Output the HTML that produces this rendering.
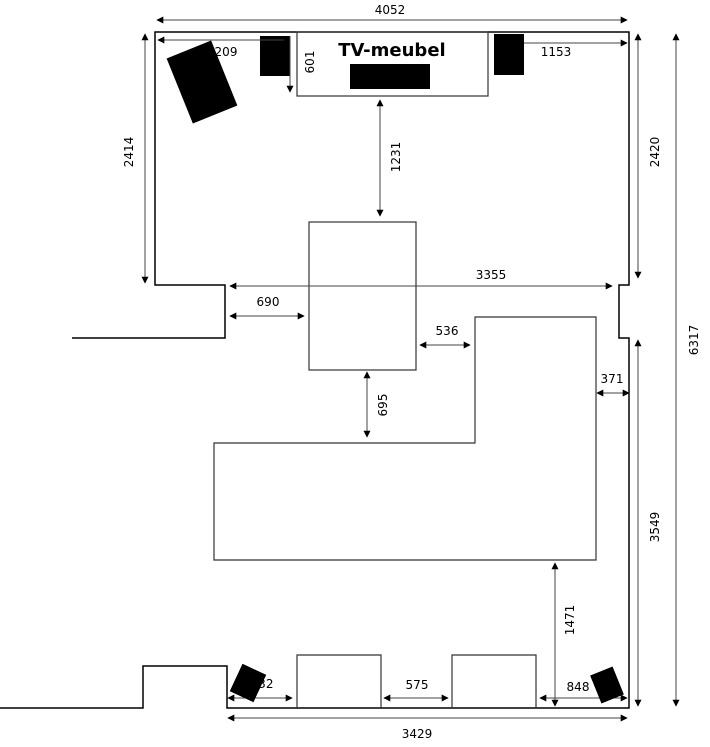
<!DOCTYPE html>
<html><head><style>
html,body{margin:0;padding:0;background:#fff;width:710px;height:747px;overflow:hidden}
svg text{font-family:"DejaVu Sans","Liberation Sans",sans-serif;font-size:12px;fill:#000}
</style></head><body>
<svg width="710" height="747" viewBox="0 0 710 747" xmlns="http://www.w3.org/2000/svg">
<defs>
<marker id="a" viewBox="0 0 10 10" refX="9" refY="5" markerWidth="7" markerHeight="7" orient="auto-start-reverse"><path d="M0,0L10,5L0,10z" fill="#000"/></marker>
</defs>
<g fill="none" stroke="#000" stroke-width="1.5">
<path d="M72,338H225V285H155V32H629V285H619V338H629V708H227V666H143V708H0"/>
</g>
<g fill="none" stroke="#333" stroke-width="1.2">
<rect x="297" y="32" width="191" height="64"/>
<rect x="309" y="222" width="107" height="148"/>
<path d="M475,443V317H596V560H214V443Z"/>
<path d="M297,708V655H381V708M452,708V655H536V708"/>
</g>
<g fill="#000">
<rect x="350" y="64" width="80" height="25"/>
<rect x="260" y="36" width="30" height="40"/>
<rect x="494" y="34" width="30" height="41"/>
<rect x="178" y="47" width="48" height="70" transform="rotate(-22 202 82)"/>
<rect x="235" y="668" width="26" height="30" transform="rotate(25 248 683)"/>
<rect x="595" y="670" width="24" height="30" transform="rotate(-22 607 685)"/>
</g>
<g stroke="#444" stroke-width="1" marker-start="url(#a)" marker-end="url(#a)">
<line x1="157" y1="20" x2="627" y2="20"/>
<line x1="158" y1="40" x2="290" y2="40"/>
<line x1="524" y1="43" x2="627" y2="43" marker-start="none"/>
<line x1="290" y1="36" x2="290" y2="92" marker-start="none"/>
<line x1="145" y1="34" x2="145" y2="283"/>
<line x1="638" y1="34" x2="638" y2="278"/>
<line x1="676" y1="34" x2="676" y2="706"/>
<line x1="380" y1="100" x2="380" y2="216"/>
<line x1="230" y1="286" x2="612" y2="286"/>
<line x1="230" y1="316" x2="304" y2="316"/>
<line x1="420" y1="345" x2="470" y2="345"/>
<line x1="597" y1="393" x2="629" y2="393"/>
<line x1="367" y1="372" x2="367" y2="437"/>
<line x1="638" y1="340" x2="638" y2="706"/>
<line x1="555" y1="563" x2="555" y2="706"/>
<line x1="228" y1="698" x2="292" y2="698"/>
<line x1="384" y1="698" x2="448" y2="698"/>
<line x1="540" y1="698" x2="627" y2="698"/>
<line x1="228" y1="718" x2="627" y2="718"/>
</g>
<text x="390" y="14" text-anchor="middle">4052</text>
<text x="226" y="56" text-anchor="middle">209</text>
<text x="556" y="56" text-anchor="middle">1153</text>
<text x="392" y="56" text-anchor="middle" style="font-family:'DejaVu Sans',sans-serif;font-size:18px;font-weight:bold">TV-meubel</text>
<text transform="translate(314,62) rotate(-90)" text-anchor="middle">601</text>
<text transform="translate(133,152) rotate(-90)" text-anchor="middle">2414</text>
<text transform="translate(659,152) rotate(-90)" text-anchor="middle">2420</text>
<text transform="translate(698,340) rotate(-90)" text-anchor="middle">6317</text>
<text transform="translate(400,157) rotate(-90)" text-anchor="middle">1231</text>
<text transform="translate(387,405) rotate(-90)" text-anchor="middle">695</text>
<text transform="translate(659,527) rotate(-90)" text-anchor="middle">3549</text>
<text transform="translate(574,620) rotate(-90)" text-anchor="middle">1471</text>
<text x="491" y="279" text-anchor="middle">3355</text>
<text x="268" y="306" text-anchor="middle">690</text>
<text x="447" y="335" text-anchor="middle">536</text>
<text x="612" y="383" text-anchor="middle">371</text>
<text x="262" y="688" text-anchor="middle">232</text>
<text x="417" y="689" text-anchor="middle">575</text>
<text x="578" y="691" text-anchor="middle">848</text>
<text x="417" y="738" text-anchor="middle">3429</text>
<rect x="235" y="668" width="26" height="30" transform="rotate(25 248 683)" fill="#000"/>
<rect x="595" y="670" width="24" height="30" transform="rotate(-22 607 685)" fill="#000"/>
</svg>
</body></html>
